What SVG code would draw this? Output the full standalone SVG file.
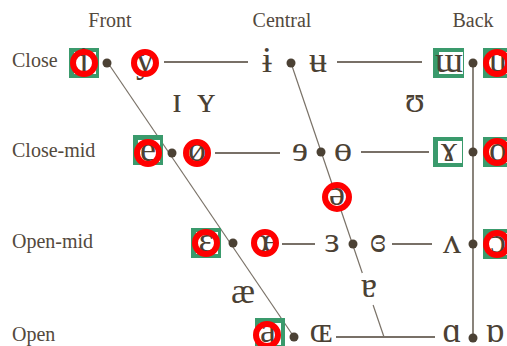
<svg xmlns="http://www.w3.org/2000/svg" width="507" height="346" viewBox="0 0 507 346">
<style>
.lbl{font-family:"Liberation Serif","DejaVu Serif",serif;font-size:20px;fill:#53493d}
.v{font-family:"Liberation Serif","DejaVu Serif",serif;font-size:36px;fill:#4b4134;text-anchor:middle}
.hl{stroke:#4b4134;stroke-width:1.3;fill:none}
.dg{stroke:#7a7268;stroke-width:1.2;fill:none}
.dot{fill:#4b4134}
.gs{fill:#3a9a6c}
.wb{fill:#ffffff}
.rc{fill:none;stroke:#ff0000;stroke-width:6}
</style>
<rect width="507" height="346" fill="#ffffff"/>
<g id="headers">
<text class="lbl" x="110" y="27" text-anchor="middle">Front</text>
<text class="lbl" x="282" y="27" text-anchor="middle">Central</text>
<text class="lbl" x="473" y="27" text-anchor="middle">Back</text>
<text class="lbl" x="12" y="67">Close</text>
<text class="lbl" x="12" y="157">Close-mid</text>
<text class="lbl" x="12" y="248">Open-mid</text>
<text class="lbl" x="12" y="341">Open</text>
</g>
<g id="connectors">
<line class="hl" x1="164" y1="62" x2="248" y2="62"/>
<line class="hl" x1="337" y1="62" x2="422" y2="62"/>
<line class="hl" x1="215" y1="153" x2="280" y2="153"/>
<line class="hl" x1="361" y1="152" x2="429" y2="152"/>
<line class="hl" x1="282" y1="244" x2="315" y2="244"/>
<line class="hl" x1="392" y1="244" x2="432" y2="244"/>
<line class="hl" x1="336" y1="337" x2="435" y2="337"/>
<line class="hl" x1="473" y1="63" x2="473" y2="338" stroke-width="1.6"/>
<line class="dg" x1="108" y1="63" x2="294" y2="337"/>
<line class="dg" x1="291" y1="63" x2="362.3" y2="273"/>
<line class="dg" x1="373.1" y1="305" x2="384" y2="337"/>
<circle class="dot" cx="107" cy="63" r="4.5"/>
<circle class="dot" cx="291" cy="63" r="4.5"/>
<circle class="dot" cx="473" cy="63" r="4.5"/>
<circle class="dot" cx="172" cy="153" r="4.5"/>
<circle class="dot" cx="321" cy="152" r="4.5"/>
<circle class="dot" cx="473" cy="152" r="4.5"/>
<circle class="dot" cx="233" cy="243" r="4.5"/>
<circle class="dot" cx="353" cy="244" r="4.5"/>
<circle class="dot" cx="473" cy="244" r="4.5"/>
<circle class="dot" cx="294" cy="337" r="4.5"/>
<circle class="dot" cx="473" cy="338" r="4.5"/>
</g>
<g id="v-i"><rect class="gs" x="69" y="48" width="30" height="30"/><rect class="wb" x="74" y="52" width="22" height="22"/><text class="v" x="84" y="72">i</text><circle class="rc" cx="84" cy="63" r="11"/></g>
<g id="v-y"><text class="v" x="145" y="72">y</text><circle class="rc" cx="145" cy="63" r="11"/></g>
<g id="v-barred-i"><text class="v" x="267" y="72">ɨ</text></g>
<g id="v-barred-u"><text class="v" x="318" y="72">ʉ</text></g>
<g id="v-turned-m"><rect class="gs" x="433" y="48" width="31" height="30"/><rect class="wb" x="439" y="52" width="24" height="22"/><text class="v" x="449" y="72">ɯ</text></g>
<g id="v-u"><rect class="gs" x="483" y="48" width="30" height="30"/><rect class="wb" x="488" y="52" width="22" height="22"/><text class="v" x="498" y="72">u</text><circle class="rc" cx="497" cy="63" r="11"/></g>
<g id="v-small-i"><text class="v" x="177" y="112">ɪ</text></g>
<g id="v-small-y"><text class="v" x="206" y="112">ʏ</text></g>
<g id="v-upsilon"><text class="v" x="415" y="112">ʊ</text></g>
<g id="v-e"><rect class="gs" x="133" y="135" width="30" height="30"/><rect class="wb" x="138" y="140" width="22" height="22"/><text class="v" x="148" y="161">e</text><circle class="rc" cx="148" cy="153" r="11"/></g>
<g id="v-o-slash"><text class="v" x="197" y="161">ø</text><circle class="rc" cx="197" cy="153" r="11"/></g>
<g id="v-reversed-e"><text class="v" x="300" y="161">ɘ</text></g>
<g id="v-barred-o"><text class="v" x="343" y="161">ɵ</text></g>
<g id="v-rams-horn"><rect class="gs" x="433" y="137" width="30" height="30"/><rect class="wb" x="438" y="141" width="24" height="22"/><text class="v" x="449" y="161">ɤ</text></g>
<g id="v-o"><rect class="gs" x="483" y="137" width="30" height="30"/><rect class="wb" x="488" y="141" width="22" height="22"/><text class="v" x="498" y="161">o</text><circle class="rc" cx="497" cy="152" r="11"/></g>
<g id="v-schwa"><rect class="wb" x="326" y="186" width="22" height="22"/><text class="v" x="337" y="205">ə</text><circle class="rc" cx="337" cy="197" r="12" stroke-width="7"/></g>
<g id="v-epsilon"><rect class="gs" x="191" y="228" width="30" height="30"/><rect class="wb" x="196" y="232" width="22" height="22"/><text class="v" x="206" y="252">ɛ</text><circle class="rc" cx="206" cy="243" r="11"/></g>
<g id="v-oe"><text class="v" x="265" y="252">œ</text><circle class="rc" cx="265" cy="243" r="11"/></g>
<g id="v-rev-epsilon"><text class="v" x="332" y="252">ɜ</text></g>
<g id="v-closed-rev-epsilon"><text class="v" x="378" y="252">ɞ</text></g>
<g id="v-turned-v"><text class="v" x="452" y="253">ʌ</text></g>
<g id="v-open-o"><rect class="gs" x="483" y="229" width="30" height="30"/><rect class="wb" x="488" y="233" width="22" height="22"/><text class="v" x="498" y="253">ɔ</text><circle class="rc" cx="497" cy="244" r="11"/></g>
<g id="v-ash"><text class="v" x="243" y="303">æ</text></g>
<g id="v-turned-a"><text class="v" x="369" y="297">ɐ</text></g>
<g id="v-a"><rect class="gs" x="255" y="318" width="30" height="30"/><rect class="wb" x="259" y="323" width="22" height="22"/><text class="v" x="268" y="342">a</text><circle class="rc" cx="267" cy="335" r="11"/></g>
<g id="v-small-oe"><text class="v" x="321" y="342">ɶ</text></g>
<g id="v-script-a"><text class="v" x="452" y="342">ɑ</text></g>
<g id="v-turned-script-a"><text class="v" x="495" y="342">ɒ</text></g>
</svg>
